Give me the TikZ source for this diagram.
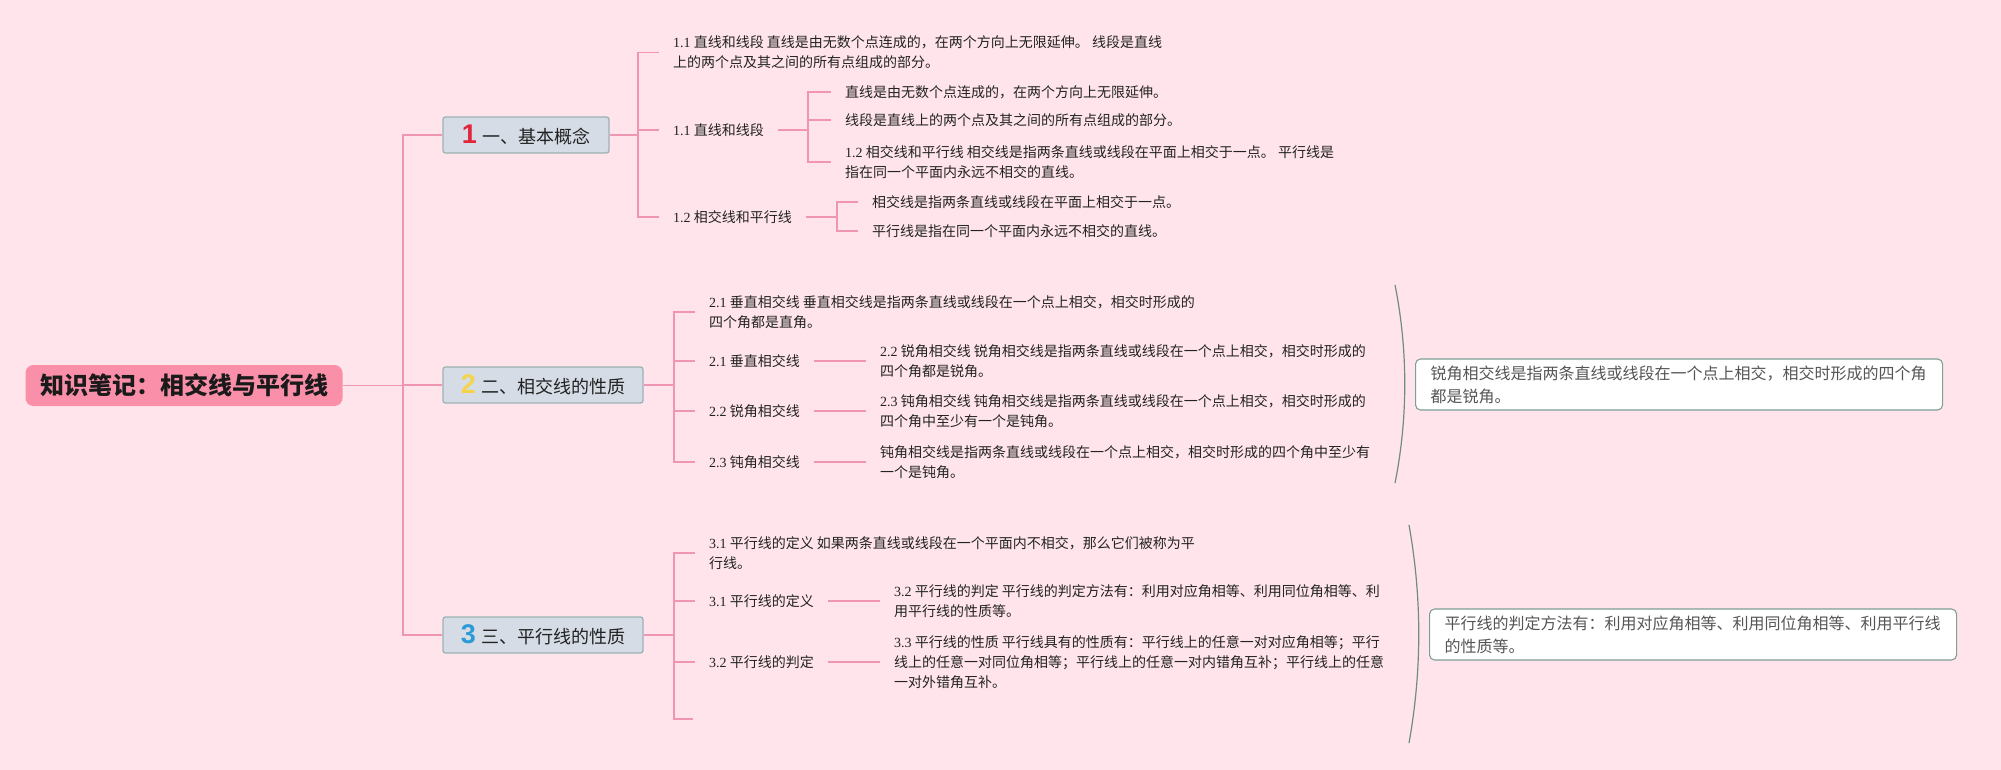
\documentclass[tikz,border=0pt]{standalone}
\usepackage{fontspec}
\setmainfont{Noto Sans CJK SC}
\newfontfamily\latf{Liberation Serif}
\newfontfamily\numf{Liberation Sans}
\newcommand\latn[1]{{\latf #1}}
\definecolor{bgc}{HTML}{FFE5EB}
\definecolor{lnkc}{HTML}{F096B2}
\definecolor{txtc}{HTML}{222222}
\definecolor{rootfill}{HTML}{F98FA9}
\definecolor{roottext}{HTML}{1A1A1A}
\definecolor{l1fill}{HTML}{D5DCE6}
\definecolor{l1border}{HTML}{9BB3B3}
\definecolor{sumborder}{HTML}{7E9E96}
\definecolor{sumtext}{HTML}{555555}
\definecolor{arcc}{HTML}{6F8C84}
\definecolor{numone}{HTML}{E2243D}
\definecolor{numtwo}{HTML}{F5D44B}
\definecolor{numthree}{HTML}{2C9AD6}
\newcommand\bignum[2]{{\numf\bfseries\fontsize{27}{27}\selectfont\color{#1}#2}\hspace{5pt}}
\tikzset{
  lnk/.style={draw=lnkc, line width=1.8pt},
  leaf/.style={anchor=west, inner xsep=14pt, inner ysep=1pt, align=left, text=txtc, font=\fontsize{14}{20}\selectfont},
  lvone/.style={draw=l1border, fill=l1fill, line width=1.3pt, rounded corners=2.5pt, minimum height=36pt, inner xsep=0pt, inner ysep=0pt, text=txtc, font=\fontsize{18}{20}\selectfont},
  rootbox/.style={fill=rootfill, rounded corners=8pt, minimum width=317pt, minimum height=41pt, inner sep=0pt, text=roottext, font=\fontsize{24}{26}\selectfont\bfseries},
  sumbox/.style={draw=sumborder, fill=white, line width=1.1pt, rounded corners=5pt, anchor=west, align=left, text width=497pt, inner xsep=15pt, inner ysep=2pt, minimum height=51pt, text=sumtext, font=\fontsize{16}{23}\selectfont},
  sumarc/.style={draw=arcc, line width=1.2pt}
}
\begin{document}
\begin{tikzpicture}[x=1pt,y=-1pt]
\fill[bgc] (0,0) rectangle (2001,770);
\useasboundingbox (0,0) rectangle (2001,770);

% root and level one
\node[rootbox] (root) at (184,385.5) {知识笔记：相交线与平行线};
\node[lvone, minimum width=166pt] (A) at (526,135) {\bignum{numone}{1}一、基本概念};
\node[lvone, minimum width=200pt] (B) at (543,385) {\bignum{numtwo}{2}二、相交线的性质};
\node[lvone, minimum width=200pt] (C) at (543,635) {\bignum{numthree}{3}三、平行线的性质};

\coordinate (tr) at (403,385.5);
\draw[lnk] (root.east) -- (tr);
\draw[lnk] (tr) |- (A.west);
\draw[lnk] (tr) |- (B.west);
\draw[lnk] (tr) |- (C.west);

% section 1
\node[leaf] (a1) at (659,52.5) {\latn{1.1} 直线和线段 直线是由无数个点连成的，在两个方向上无限延伸。 线段是直线\\上的两个点及其之间的所有点组成的部分。};
\node[leaf] (a2) at (659,130) {\latn{1.1} 直线和线段};
\node[leaf] (a21) at (831,92) {直线是由无数个点连成的，在两个方向上无限延伸。};
\node[leaf] (a22) at (831,120) {线段是直线上的两个点及其之间的所有点组成的部分。};
\node[leaf] (a23) at (831,162) {\latn{1.2} 相交线和平行线 相交线是指两条直线或线段在平面上相交于一点。 平行线是\\指在同一个平面内永远不相交的直线。};
\node[leaf] (a3) at (659,217) {\latn{1.2} 相交线和平行线};
\node[leaf] (a31) at (858,202) {相交线是指两条直线或线段在平面上相交于一点。};
\node[leaf] (a32) at (858,231) {平行线是指在同一个平面内永远不相交的直线。};

\coordinate (jA) at (638,135);
\draw[lnk] (A.east) -- (jA);
\foreach \n in {a1,a2,a3} \draw[lnk] (jA) |- (\n.west);
\coordinate (ja2) at (808,130);
\draw[lnk] (a2.east) -- (ja2);
\foreach \n in {a21,a22,a23} \draw[lnk] (ja2) |- (\n.west);
\coordinate (ja3) at (837,217);
\draw[lnk] (a3.east) -- (ja3);
\foreach \n in {a31,a32} \draw[lnk] (ja3) |- (\n.west);

% section 2
\node[leaf] (b1) at (695,312) {\latn{2.1} 垂直相交线 垂直相交线是指两条直线或线段在一个点上相交，相交时形成的\\四个角都是直角。};
\node[leaf] (b2) at (695,361) {\latn{2.1} 垂直相交线};
\node[leaf] (b21) at (866,361) {\latn{2.2} 锐角相交线 锐角相交线是指两条直线或线段在一个点上相交，相交时形成的\\四个角都是锐角。};
\node[leaf] (b3) at (695,411) {\latn{2.2} 锐角相交线};
\node[leaf] (b31) at (866,411) {\latn{2.3} 钝角相交线 钝角相交线是指两条直线或线段在一个点上相交，相交时形成的\\四个角中至少有一个是钝角。};
\node[leaf] (b4) at (695,462) {\latn{2.3} 钝角相交线};
\node[leaf] (b41) at (866,462) {钝角相交线是指两条直线或线段在一个点上相交，相交时形成的四个角中至少有\\一个是钝角。};

\coordinate (jB) at (674,385);
\draw[lnk] (B.east) -- (jB);
\foreach \n in {b1,b2,b3,b4} \draw[lnk] (jB) |- (\n.west);
\draw[lnk] (b2.east) -- (b21.west);
\draw[lnk] (b3.east) -- (b31.west);
\draw[lnk] (b4.east) -- (b41.west);

% section 3
\node[leaf] (c1) at (695,553) {\latn{3.1} 平行线的定义 如果两条直线或线段在一个平面内不相交，那么它们被称为平\\行线。};
\node[leaf] (c2) at (695,601) {\latn{3.1} 平行线的定义};
\node[leaf] (c21) at (880,601) {\latn{3.2} 平行线的判定 平行线的判定方法有：利用对应角相等、利用同位角相等、利\\用平行线的性质等。};
\node[leaf] (c3) at (695,662) {\latn{3.2} 平行线的判定};
\node[leaf] (c31) at (880,662) {\latn{3.3} 平行线的性质 平行线具有的性质有：平行线上的任意一对对应角相等；平行\\线上的任意一对同位角相等；平行线上的任意一对内错角互补；平行线上的任意\\一对外错角互补。};
\coordinate (c4) at (693,719);

\coordinate (jC) at (674,635);
\draw[lnk] (C.east) -- (jC);
\foreach \n in {c1,c2,c3} \draw[lnk] (jC) |- (\n.west);
\draw[lnk] (jC) |- (c4);
\draw[lnk] (c2.east) -- (c21.west);
\draw[lnk] (c3.east) -- (c31.west);

% summaries
\coordinate (u1) at (1395,285);
\coordinate (v1) at (1395,483);
\draw[sumarc] (u1) .. controls (1408,350) and (1408,418) .. (v1);
\node[sumbox] (s1) at (1415,384.5) {锐角相交线是指两条直线或线段在一个点上相交，相交时形成的四个角\\都是锐角。};

\coordinate (u2) at (1409,525);
\coordinate (v2) at (1409,743);
\draw[sumarc] (u2) .. controls (1422,598) and (1422,670) .. (v2);
\node[sumbox] (s2) at (1429,634.5) {平行线的判定方法有：利用对应角相等、利用同位角相等、利用平行线\\的性质等。};
\end{tikzpicture}
\end{document}
